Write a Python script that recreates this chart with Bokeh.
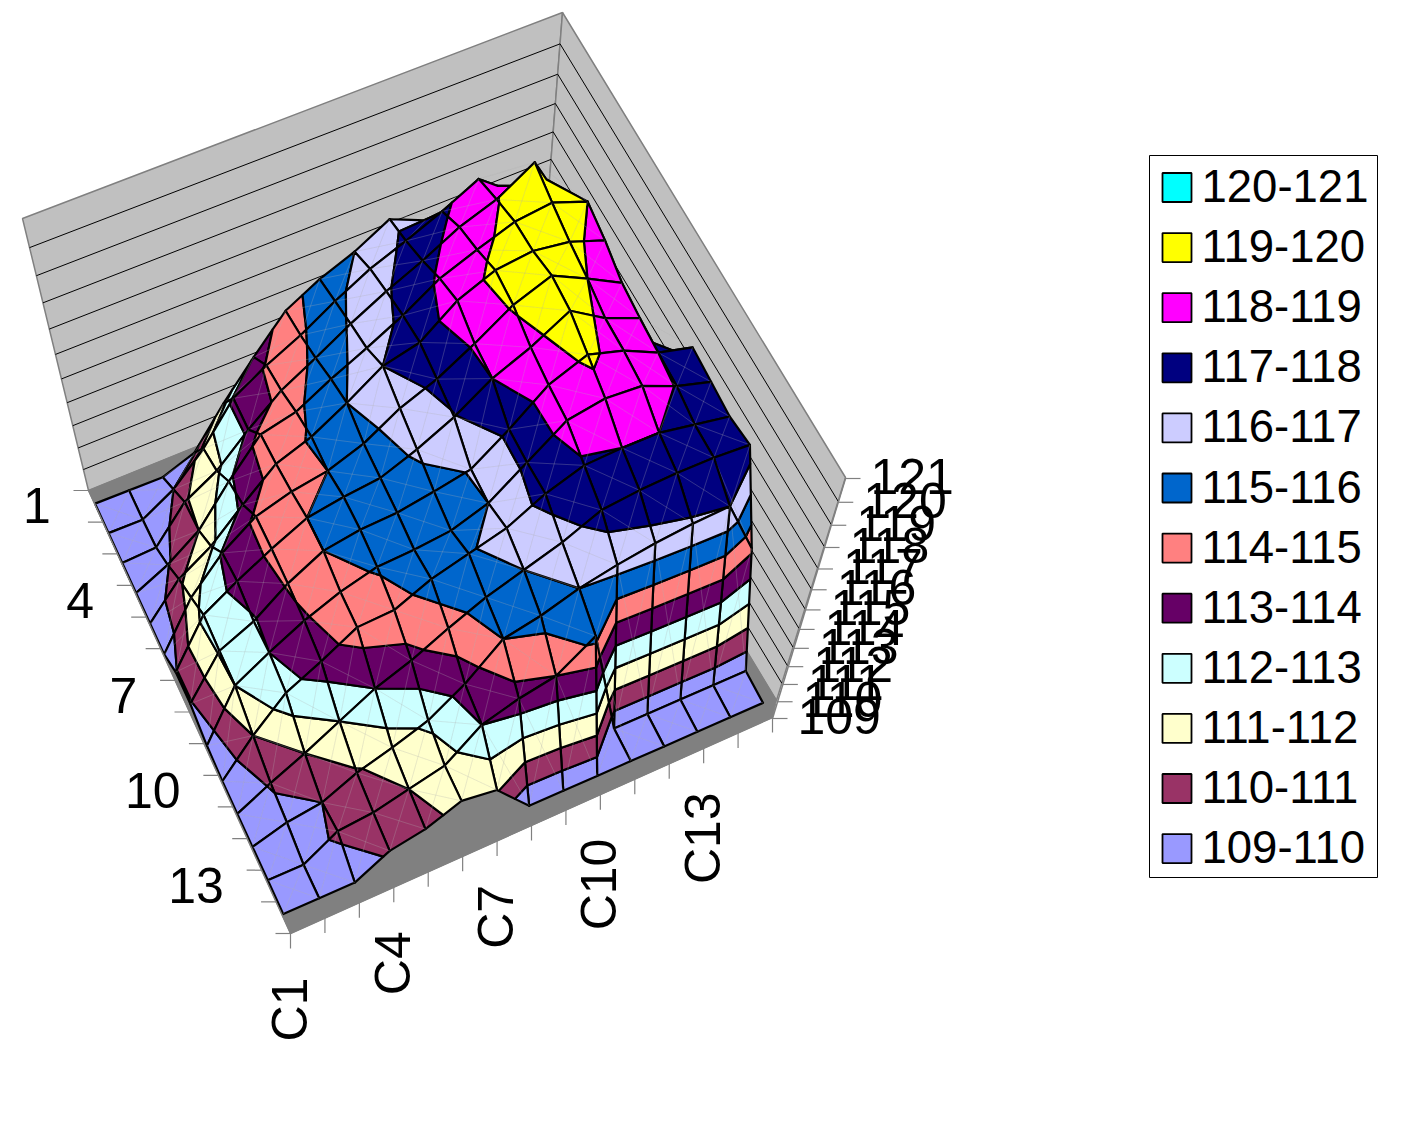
import numpy as np
from bokeh.plotting import figure
from bokeh.models import Range1d, ColumnDataSource
from bokeh.core.properties import value
from bokeh.embed import file_html
from bokeh.resources import INLINE

# ---- data: one list per row, columns C1..C15
row_01 = [109.1,109.1,109.1,109.7,111.5,113.1,114.6,115.4,116.0,116.8,116.2,115.0,114.0,113.0,112.0]
row_02 = [109.1,109.1,110.0,111.4,113.2,114.1,114.85,115.75,116.55,117.15,117.8,118.55,117.5,116.0,114.0]
row_03 = [109.1,109.2,110.9,111.8,113.15,114.35,115.2,116.1,116.9,117.6,118.4,118.95,119.85,117.5,114.0]
row_04 = [109.1,109.9,111.0,112.8,114.4,114.8,115.65,116.4,117.2,118.15,118.75,119.3,119.5,119.0,114.0]
row_05 = [109.1,110.8,111.8,113.2,114.5,115.1,116.0,117.0,117.4,118.55,119.2,119.4,119.2,118.7,113.5]
row_06 = [109.1,111.5,113.1,114.2,114.7,115.0,115.6,116.55,117.2,118.1,119.1,119.7,119.0,118.25,114.0]
row_07 = [109.9,112.3,113.3,114.2,115.0,115.3,115.5,116.15,116.95,118.0,118.7,119.6,118.7,118.1,114.0]
row_08 = [109.9,112.1,112.9,114.1,115.0,115.3,115.4,115.7,116.05,117.2,118.5,119.15,118.7,118.0,117.6]
row_09 = [109.3,112.0,113.0,113.9,114.6,115.1,115.2,115.4,116.0,117.2,118.4,118.7,118.6,117.95,117.5]
row_10 = [109.1,111.0,112.6,113.5,114.5,114.6,115.4,115.9,116.4,117.3,117.9,118.0,118.0,117.7,117.4]
row_11 = [109.1,110.1,111.0,112.0,113.0,113.7,114.6,115.4,116.0,116.6,117.4,117.6,117.7,117.7,117.6]
row_12 = [109.1,109.7,110.0,110.9,111.5,112.2,113.4,115.0,115.4,116.0,116.4,116.7,116.9,117.0,114.2]
row_13 = [109.1,109.1,110.3,110.5,111.0,111.5,113.0,113.6,114.0,115.3,109.15,109.15,109.15,109.15,109.15]
row_14 = [109.1,109.1,109.1,110.2,110.6,111.4,111.1,109.1,109.1,109.1,109.1,109.1,109.1,109.1,109.1]
band_labels = ["120-121","119-120","118-119","117-118","116-117","115-116","114-115","113-114","112-113","111-112","110-111","109-110"]
band_colors = ["#00FFFF","#FFFF00","#FF00FF","#000080","#CCCCFF","#0066CC","#FF8080","#660066","#CCFFFF","#FFFFCC","#993366","#9999FF"]
z_ticks = list(range(109,122))
row_labels = ["1","4","7","10","13"]
col_labels = ["C1","C4","C7","C10","C13"]

Z = np.array([row_01,row_02,row_03,row_04,row_05,row_06,row_07,row_08,row_09,row_10,row_11,row_12,row_13,row_14])
nr, nc = Z.shape
z0, z1 = z_ticks[0], z_ticks[-1]

# ---- projection: plot box corners on the page
VP = np.array([420.0,1860.0])
def homography(src,dst):
    A=[];b=[]
    for (u,v),(x,y) in zip(src,dst):
        A.append([u,v,1,0,0,0,-u*x,-v*x]);b.append(x)
        A.append([0,0,0,u,v,1,-u*y,-v*y]);b.append(y)
    h=np.linalg.solve(np.array(A),np.array(b))
    return np.append(h,1).reshape(3,3)
H=homography([(0,0),(1,0),(0,1),(1,1)],[(95,505),(550,327),(283,915),(762,704)])
pb=H@np.array([1,0,1.0]); pb=pb/pb[2]
a_top=(pb[1]-42.0)/(VP[1]-42.0)
scale=(H@np.array([1,0,1.0]))[2]
def proj(c,r,z):
    p=H@np.array([c/(nc-1),r/(nr-1),1.0])
    w=(z-z0)/(z1-z0)*a_top*scale
    den=p[2]-w
    return (p[0]-w*VP[0])/den,(p[1]-w*VP[1])/den

def clip(poly,level,keep_above):
    out=[]
    n=len(poly)
    for i in range(n):
        a=poly[i];b=poly[(i+1)%n]
        ia=(a[2]>=level) if keep_above else (a[2]<=level)
        ib=(b[2]>=level) if keep_above else (b[2]<=level)
        if ia: out.append(a)
        if ia!=ib:
            t=(level-a[2])/(b[2]-a[2])
            out.append((a[0]+t*(b[0]-a[0]),a[1]+t*(b[1]-a[1]),level))
    return out

levels=list(range(109,121))
colors_low=band_colors[::-1]
xs=[];ys=[];fills=[];falpha=[];lcol=[];lalpha=[];lw=[]
def add(pts,fill,fa,lc,la,w):
    xs.append([t[0] for t in pts]);ys.append([t[1] for t in pts])
    fills.append(fill);falpha.append(fa);lcol.append(lc);lalpha.append(la);lw.append(w)
for r in range(nr-1):
    for c in range(nc-2,-1,-1):
        q=[(c,r,Z[r,c]),(c+1,r,Z[r,c+1]),(c+1,r+1,Z[r+1,c+1]),(c,r+1,Z[r+1,c])]
        for lv,col in zip(levels,colors_low):
            pl=clip(q,lv,True)
            if len(pl)>=3: pl=clip(pl,lv+1,False)
            if len(pl)<3: continue
            add([proj(*v) for v in pl],col,1.0,"black",1.0,2.2)
        # faint facet diagonals
        add([proj(*q[0]),proj(*q[2])],"#000000",0.0,"#B0B0B0",0.22,0.7)
        add([proj(*q[1]),proj(*q[3])],"#000000",0.0,"#B0B0B0",0.22,0.7)

p=figure(width=1388,height=1108,x_range=Range1d(0,1388),y_range=Range1d(1108,0),
         output_backend="svg",toolbar_location=None,min_border=0,outline_line_color=None)
p.axis.visible=False
p.grid.visible=False

FONT=value("Liberation Sans")
# walls
L=(88,490);TL=(22,218);B=(539,307);TB=(562,12);R=(776,700);TR=(845,477)
def along(b,t,f):
    a=(b[1]-t[1])/(VP[1]-t[1])
    y=(b[1]-f*a*VP[1])/(1-f*a)
    s=(b[1]-y)/(b[1]-t[1])
    return b[0]+s*(t[0]-b[0]),y
p.patch([L[0],TL[0],TB[0],B[0]],[L[1],TL[1],TB[1],B[1]],fill_color="#C0C0C0",line_color="#808080",line_width=1.5)
p.patch([B[0],TB[0],TR[0],R[0]],[B[1],TB[1],TR[1],R[1]],fill_color="#C0C0C0",line_color="#808080",line_width=1.5)
wx=[];wy=[]
for i in range(1,11):
    f=i/11
    a=along(L,TL,f);b=along(B,TB,f);c=along(R,TR,f)
    wx.append([a[0],b[0],c[0]]);wy.append([a[1],b[1],c[1]])
p.multi_line(wx,wy,line_color="black",line_width=1)
# floor plate
p.patch([88,539,776,772,290],[490,307,700,717,933],fill_color="#808080",line_color="#808080")

# surface
src=ColumnDataSource(dict(xs=xs,ys=ys,f=fills,fa=falpha,lc=lcol,la=lalpha,lw=lw))
p.patches("xs","ys",source=src,fill_color="f",fill_alpha="fa",line_color="lc",line_alpha="la",line_width="lw",line_join="round")

# axes
FL=(88,490);FF=(290,933);FR=(772,717)
p.line([FL[0],FF[0],FR[0]],[FL[1],FF[1],FR[1]],line_color="#808080",line_width=1.5)
tx=[];ty=[]
n_row_t=nr+1
for i in range(n_row_t):
    t=i/(n_row_t-1); x=FL[0]+t*(FF[0]-FL[0]); y=FL[1]+t*(FF[1]-FL[1])
    tx.append([x,x-15]);ty.append([y,y])
n_col_t=nc
for i in range(n_col_t):
    t=i/(n_col_t-1); x=FF[0]+t*(FR[0]-FF[0]); y=FF[1]+t*(FR[1]-FF[1])
    tx.append([x,x]);ty.append([y,y+15])
zbase=(772,718);ztop=(845,478)
zt=[along(zbase,ztop,(z-z0)/(z1-z0)) for z in z_ticks]
for (x,y) in zt:
    tx.append([x,x+15]);ty.append([y,y])
p.line([zbase[0],ztop[0]],[zbase[1],ztop[1]],line_color="#808080",line_width=1.5)
p.multi_line(tx,ty,line_color="#808080",line_width=1.2)
p.text([x+25 for x,y in zt],[y-2 for x,y in zt],text=[str(z) for z in z_ticks],text_font=FONT,
       text_font_size="50px",text_align="left",text_baseline="middle",text_color="black")
for lab in row_labels:
    i=int(lab)-1; t=(i+0.5)/(n_row_t-1)
    x=FL[0]+t*(FF[0]-FL[0]); y=FL[1]+t*(FF[1]-FL[1])
    p.text([x-45],[y-1],text=[lab],text_font=FONT,text_font_size="50px",text_align="right",text_baseline="middle")
for lab in col_labels:
    i=int(lab[1:])-1; t=i/(n_col_t-1)
    x=FF[0]+t*(FR[0]-FF[0]); y=FF[1]+t*(FR[1]-FF[1])
    p.text([x-1],[y+44],text=[lab],text_font=FONT,text_font_size="50px",text_align="right",text_baseline="middle",angle=np.pi/2)

# legend
p.quad(left=[1149],right=[1377],top=[155],bottom=[877],fill_color="white",line_color="black",line_width=1)
for i,(lab,col) in enumerate(zip(band_labels,band_colors)):
    y=187+i*60.1
    p.quad(left=[1162],right=[1191],top=[y-14.5],bottom=[y+14.5],fill_color=col,line_color="black",line_width=1.8)
    p.text([1201],[y-1.5],text=[lab],text_font=FONT,text_font_size="45.5px",text_align="left",text_baseline="middle")

open("out.html","w").write(file_html(p,INLINE))
